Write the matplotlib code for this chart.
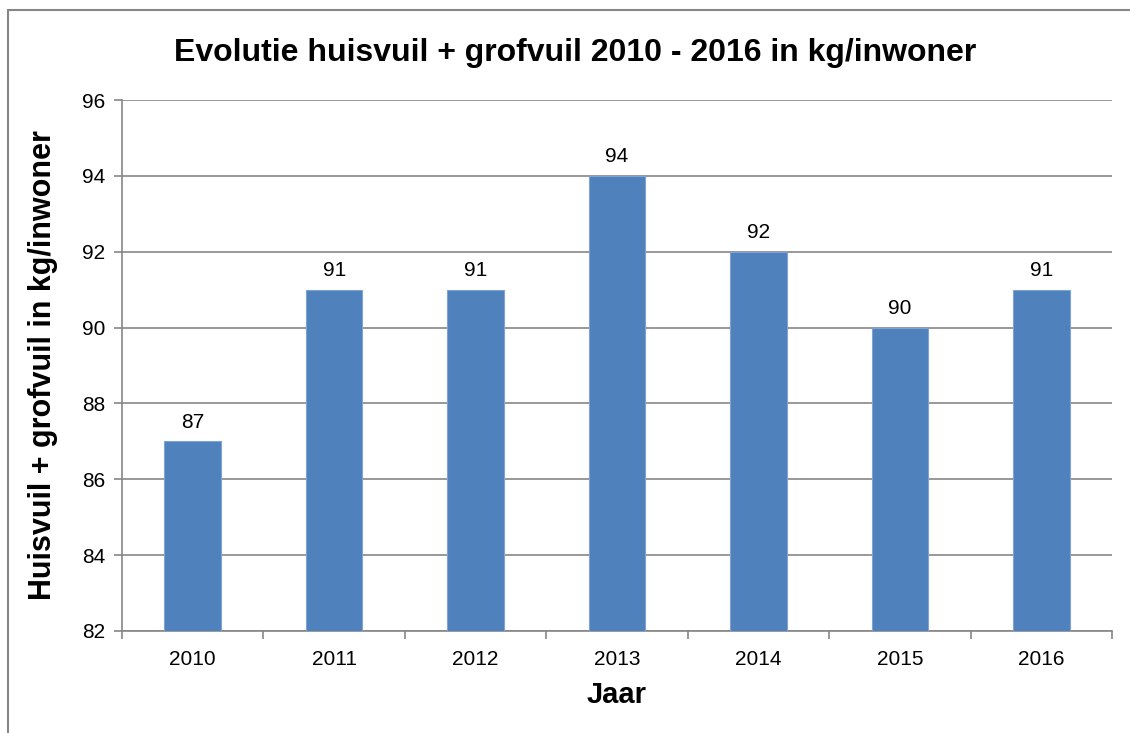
import matplotlib.pyplot as plt
from matplotlib.patches import Rectangle

plt.rcParams['font.family'] = ['Liberation Sans', 'DejaVu Sans']

jaren = ['2010', '2011', '2012', '2013', '2014', '2015', '2016']
waarden = [87, 91, 91, 94, 92, 90, 91]
y_ticks = [82, 84, 86, 88, 90, 92, 94, 96]

grijs = '#868686'
blauw = '#4F81BD'

fig = plt.figure(figsize=(11.3, 7.33), dpi=100)
ax = fig.add_axes([122 / 1130, 1 - 631 / 733, 990 / 1130, 531 / 733])

# kader rond de grafiek
fig.patches.append(Rectangle((8 / 1130, -0.1), 1.2, 1 - 10 / 733 + 0.1,
                             transform=fig.transFigure, fill=False,
                             edgecolor=grijs, linewidth=1.5))

x = list(range(len(jaren)))
bars = ax.bar(x, waarden, width=0.4, bottom=0, color=blauw,
              edgecolor='#7FA3D3', linewidth=0.8, zorder=3)
for xi, v in zip(x, waarden):
    ax.text(xi, v + 0.25, str(v), ha='center', va='bottom', fontsize=15)

ax.set_ylim(82, 96)
ax.set_xlim(-0.5, len(jaren) - 0.5)
ax.set_yticks(y_ticks)
ax.set_yticklabels([str(t) for t in y_ticks], fontsize=15)
ax.set_xticks(x)
ax.set_xticklabels(jaren, fontsize=15)
ax.set_xticks([i - 0.5 for i in range(len(jaren) + 1)], minor=True)

ax.grid(axis='y', color=grijs, linewidth=1.2, zorder=0)
ax.set_axisbelow(True)
for s in ['top', 'right']:
    ax.spines[s].set_visible(False)
for s in ['left', 'bottom']:
    ax.spines[s].set_color(grijs)
    ax.spines[s].set_linewidth(1.2)

ax.tick_params(axis='y', length=6, color=grijs, width=1.2, pad=6)
ax.tick_params(axis='x', which='major', length=0, pad=14)
ax.tick_params(axis='x', which='minor', length=6, color=grijs, width=1.2)

ax.set_xlabel('Jaar', fontsize=21, fontweight='bold', labelpad=8)
ax.set_ylabel('Huisvuil + grofvuil in kg/inwoner', fontsize=22,
              fontweight='bold', labelpad=17)
fig.text(575 / 1130, 1 - 53 / 733,
         'Evolutie huisvuil + grofvuil 2010 - 2016 in kg/inwoner',
         ha='center', va='center', fontsize=23, fontweight='bold')

fig.savefig('out.png', dpi=100)
